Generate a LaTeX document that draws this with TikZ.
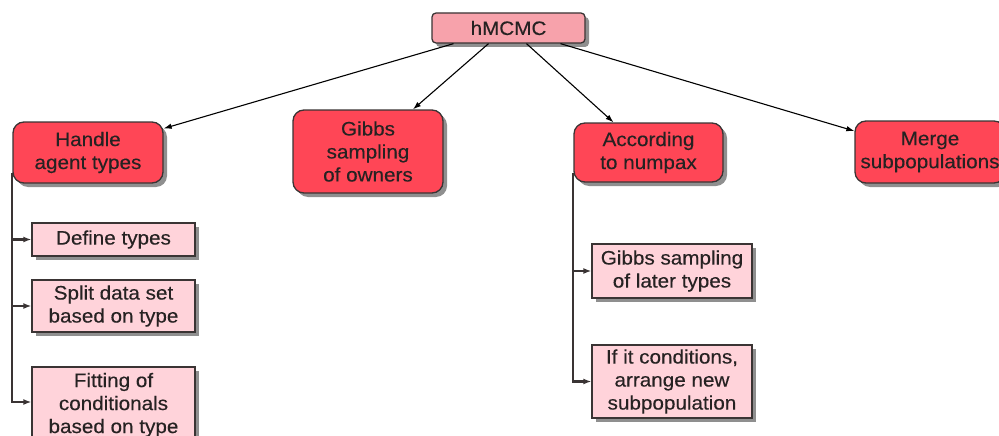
\documentclass[tikz,border=0pt]{standalone}
\usepackage{fontspec}
\setmainfont[FakeStretch=1.06,FakeBold=0.3]{Liberation Sans}
\usetikzlibrary{shadows,arrows.meta}
\definecolor{rootfill}{HTML}{F7A2AB}
\definecolor{mainfill}{HTML}{FF4656}
\definecolor{subfill}{HTML}{FFD3DA}
\definecolor{edge}{HTML}{3A3434}
\definecolor{txt}{HTML}{262222}
\tikzset{
  base/.style={draw=edge, line width=1.3pt, text=txt, align=center, inner sep=0pt,
    font=\fontsize{19.5}{23}\selectfont,
    drop shadow={shadow xshift=4pt, shadow yshift=-4pt, fill=black!55, opacity=0.8}},
  rootbox/.style={base, fill=rootfill, rounded corners=4pt},
  mainbox/.style={base, fill=mainfill, rounded corners=11pt},
  subbox/.style={base, fill=subfill},
  conn/.style={draw=black, line width=1.1pt, -{Latex[length=8pt,width=5.5pt]}},
  tree/.style={draw=edge, line width=2.2pt, -{Latex[length=8pt,width=6pt]}}
}
\begin{document}
\begin{tikzpicture}[x=1pt,y=-1pt]
\useasboundingbox (0,0) rectangle (999,436);
\node[rootbox, minimum width=153pt, minimum height=30pt] (root) at (508.5,28) {hMCMC};
\node[mainbox, minimum width=150pt, minimum height=61pt] (handle) at (88,152.5) {Handle\\agent types};
\node[mainbox, minimum width=150pt, minimum height=83pt] (gibbs) at (368,151.5) {Gibbs\\sampling\\of owners};
\node[mainbox, minimum width=149pt, minimum height=59pt] (acc) at (648.5,152.5) {According\\to numpax};
\node[mainbox, minimum width=150pt, minimum height=62pt] (merge) at (930,152) {Merge\\subpopulations};

\node[subbox, minimum width=163pt, minimum height=33pt] (define) at (113.5,239.5) {Define types};
\node[subbox, minimum width=163pt, minimum height=52pt] (split) at (113.5,306) {Split data set\\based on type};
\node[subbox, minimum width=163pt, minimum height=76pt] (fit) at (113.5,405) {Fitting of\\conditionals\\based on type};

\node[subbox, minimum width=160pt, minimum height=54pt] (later) at (672,271) {Gibbs sampling\\of later types};
\node[subbox, minimum width=160pt, minimum height=73pt] (cond) at (672,381.5) {If it conditions,\\arrange new\\subpopulation};

\draw[conn] ([xshift=-55pt]root.south) -- ([yshift=24pt]handle.east);
\draw[conn] ([xshift=-20pt]root.south) -- ([xshift=45pt]gibbs.north);
\draw[conn] ([xshift=18pt]root.south) -- ([xshift=-35pt]acc.north);
\draw[conn] ([xshift=52pt]root.south) -- ([yshift=21pt]merge.west);

\coordinate (hl) at ([yshift=-20pt]handle.west);
\draw[tree] (hl) |- (define.west);
\draw[tree] (hl) |- (split.west);
\draw[tree] (hl) |- ([yshift=3pt]fit.west);

\coordinate (al) at ([yshift=-20pt]acc.west);
\draw[tree] (al) |- (later.west);
\draw[tree] (al) |- (cond.west);
\end{tikzpicture}
\end{document}
